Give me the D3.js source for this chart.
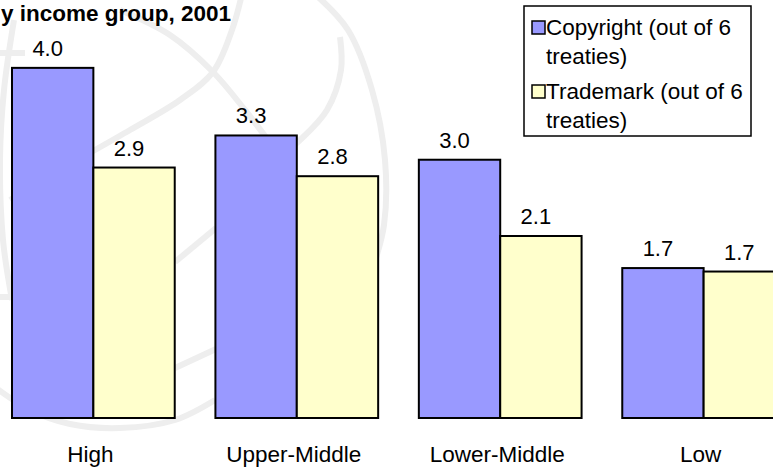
<!DOCTYPE html>
<html>
<head>
<meta charset="utf-8">
<script src="https://cdn.jsdelivr.net/npm/d3@7"></script>
<style>
  html, body { margin: 0; padding: 0; background: #ffffff; }
  svg { display: block; font-family: "Liberation Sans", Arial, sans-serif; }
</style>
</head>
<body>
<svg id="chart" width="773" height="468"></svg>
<script>
// ---- data ----
const categories = ["High", "Upper-Middle", "Lower-Middle", "Low"];
const seriesNames = ["Copyright (out of 6 treaties)", "Trademark (out of 6 treaties)"];
const legendLines = [["Copyright (out of 6", "treaties)"], ["Trademark (out of 6", "treaties)"]];
const copyright = [4.04, 3.26, 2.98, 1.73];
const trademark = [2.89, 2.79, 2.10, 1.69];
const titleText = "y income group, 2001";

const colors = ["#9999FF", "#FFFFCC"];
const svg = d3.select("#chart");

// ---- watermark (decorative globe) ----
const wm = svg.append("g").attr("fill", "none").attr("stroke", "#eeeeee").attr("stroke-width", 6);
const curve = d3.line().curve(d3.curveCatmullRom);
const wmPaths = [
  [[317,-4],[348,30],[372,90],[385,160],[384,225],[372,270]],
  [[340,37],[341,70],[327,110],[300,140],[262,170]],
  [[242,-6],[232,30],[213,72],[180,100],[130,130],[60,170],[10,200]],
  [[120,10],[170,35],[213,72],[245,110],[268,140]],
  [[14,20],[4,90],[0,160],[3,240],[12,300]],
  [[-4,53],[25,53]],
  [[-4,297],[14,297]],
  [[-4,388],[30,410],[70,424],[120,428],[175,420],[215,400]],
  [[175,368],[216,349]],
  [[175,262],[216,228]]
];
wmPaths.forEach(p => wm.append("path").attr("d", curve(p)));

// ---- scales ----
const x0 = d3.scaleBand().domain(categories).range([12, 785]).paddingInner(0.2).paddingOuter(0);
const x1 = d3.scaleBand().domain([0, 1]).range([0, x0.bandwidth()]);
const y = d3.scaleLinear().domain([0, 4.5]).range([418, 28]);

const rows = categories.map((c, i) => ({ cat: c, vals: [copyright[i], trademark[i]] }));

const groups = svg.append("g").selectAll("g").data(rows).join("g")
  .attr("transform", d => `translate(${x0(d.cat)},0)`);

groups.selectAll("rect").data(d => d.vals.map((v, k) => ({ v, k }))).join("rect")
  .attr("x", d => x1(d.k))
  .attr("y", d => y(d.v))
  .attr("width", x1.bandwidth())
  .attr("height", d => y(0) - y(d.v))
  .attr("fill", d => colors[d.k])
  .attr("stroke", "#000")
  .attr("stroke-width", 2);

groups.selectAll("text.val").data(d => d.vals.map((v, k) => ({ v, k }))).join("text")
  .attr("class", "val")
  .attr("x", d => x1(d.k) + x1.bandwidth() / 2 - 5)
  .attr("y", d => y(d.v) - 12)
  .attr("text-anchor", "middle")
  .attr("font-size", 22)
  .attr("fill", "#000")
  .text(d => d3.format(".1f")(d.v));

// ---- category axis labels ----
svg.append("g").selectAll("text").data(categories).join("text")
  .attr("x", d => x0(d) + x0.bandwidth() / 2 - 3)
  .attr("y", 462)
  .attr("text-anchor", "middle")
  .attr("font-size", 22.5)
  .attr("fill", "#000")
  .text(d => d);

// ---- title (cropped at the top in the original) ----
svg.append("text")
  .attr("x", 1).attr("y", 21)
  .attr("font-size", 22.5).attr("font-weight", "bold")
  .attr("fill", "#000")
  .text(titleText);

// ---- legend ----
const lg = svg.append("g");
lg.append("rect").attr("x", 524).attr("y", 6).attr("width", 227).attr("height", 130)
  .attr("fill", "#fff").attr("stroke", "#000").attr("stroke-width", 1.5);
const itemY = [21, 85];
legendLines.forEach((lines, k) => {
  lg.append("rect").attr("x", 532).attr("y", itemY[k]).attr("width", 13).attr("height", 13)
    .attr("fill", colors[k]).attr("stroke", "#000").attr("stroke-width", 1.5);
  lines.forEach((t, j) => {
    lg.append("text").attr("x", 546).attr("y", itemY[k] + 14 + j * 28.5)
      .attr("font-size", 22.5).attr("fill", "#000").text(t);
  });
});
</script>
</body>
</html>
